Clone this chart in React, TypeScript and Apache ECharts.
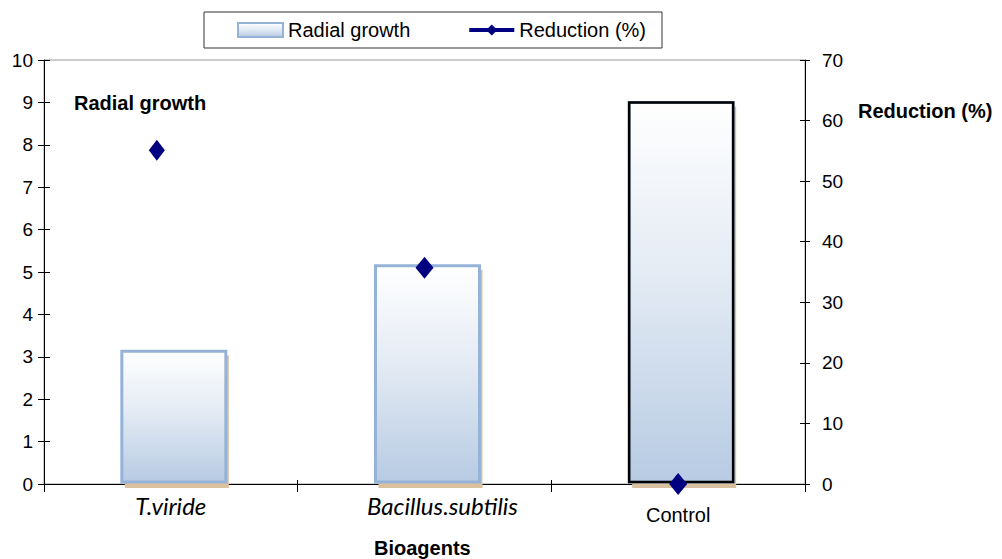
import React, { useEffect, useRef } from "react";
import * as echarts from "echarts";

const categories = ["T.viride", "Bacillus.subtilis", "Control"];
const radialGrowth = [3.13, 5.15, 9.0];
const reduction = [55.1, 35.7, 0];
const italicCategories = ["T.viride", "Bacillus.subtilis"];

const FONT = "'Liberation Sans', Arial, sans-serif";

export default function App() {
  const ref = useRef<HTMLDivElement>(null);
  useEffect(() => {
    document.body.style.margin = "0";
    if (!ref.current) return;
    const chart = echarts.init(ref.current, null, { renderer: "svg" });
    const barGradient = () =>
      new echarts.graphic.LinearGradient(0, 0, 0, 1, [
        { offset: 0, color: "#ffffff" },
        { offset: 0.45, color: "#e4ebf4" },
        { offset: 1, color: "#b7cbe3" },
      ]);
    const option: any = {
      animation: false,
      backgroundColor: "#ffffff",
      textStyle: { fontFamily: FONT },
      grid: {
        left: 44,
        right: 197,
        top: 60,
        bottom: 75,
        show: true,
        borderColor: "#999",
        borderWidth: 1,
        backgroundColor: "transparent",
      },
      legend: {
        left: 204,
        top: 12,
        padding: [8, 16, 8, 33],
        itemWidth: 45,
        itemHeight: 14,
        itemGap: 57,
        borderColor: "#333",
        borderWidth: 1,
        backgroundColor: "#fff",
        textStyle: { fontFamily: FONT, fontSize: 20, color: "#000" },
        data: [
          {
            name: "Radial growth",
            icon: "rect",
            itemStyle: {
              color: barGradient(),
              borderColor: "#95b3d7",
              borderWidth: 2,
            },
          },
          {
            name: "Reduction (%)",
            lineStyle: { opacity: 1, width: 4, color: "#000080" },
            itemStyle: { color: "#000080" },
          },
        ],
      },
      xAxis: [
        {
          type: "category",
          data: categories,
          position: "bottom",
          boundaryGap: true,
          axisLine: { lineStyle: { color: "#000", width: 1 } },
          axisTick: { show: true, inside: false, length: 8, lineStyle: { color: "#000" } },
          axisLabel: {
            margin: 9,
            formatter: (v: string, i: number) =>
              italicCategories.includes(v) ? (i === 1 ? `{b|${v}}` : `{i|${v}}`) : `{n|${v}}`,
            rich: {
              i: { fontFamily: "Lato, sans-serif", fontStyle: "italic", fontSize: 24, color: "#000" },
              b: { fontFamily: "Lato, sans-serif", fontStyle: "italic", fontSize: 24, color: "#000", padding: [0, 0, 0, 36] },
              n: { fontFamily: FONT, fontSize: 20, color: "#000", padding: [12, 0, 0, 0] },
            },
          },
          splitLine: { show: false },
        },
        {
          type: "category",
          data: categories,
          position: "bottom",
          boundaryGap: true,
          axisLine: { show: false },
          axisTick: { show: true, inside: true, length: 4, lineStyle: { color: "#000" } },
          axisLabel: { show: false },
          splitLine: { show: false },
        },
      ],
      yAxis: [
        {
          type: "value",
          position: "left",
          min: 0,
          max: 10,
          interval: 1,
          axisLine: { show: true, lineStyle: { color: "#000" } },
          axisTick: { show: true, length: 6, lineStyle: { color: "#000" } },
          axisLabel: { margin: 11, fontSize: 19, color: "#000", fontFamily: FONT },
          splitLine: { show: false },
        },
        {
          type: "value",
          position: "right",
          min: 0,
          max: 70,
          interval: 10,
          axisLine: { show: true, lineStyle: { color: "#000" } },
          axisTick: { show: true, length: 5, lineStyle: { color: "#000" } },
          axisLabel: { margin: 17, fontSize: 19, color: "#000", fontFamily: FONT },
          splitLine: { show: false },
        },
        {
          type: "value",
          position: "left",
          min: 0,
          max: 10,
          interval: 1,
          axisLine: { show: false },
          axisTick: { show: true, inside: true, length: 6, lineStyle: { color: "#000" } },
          axisLabel: { show: false },
          splitLine: { show: false },
        },
        {
          type: "value",
          position: "right",
          min: 0,
          max: 70,
          interval: 10,
          axisLine: { show: false },
          axisTick: { show: true, inside: true, length: 5, lineStyle: { color: "#000" } },
          axisLabel: { show: false },
          splitLine: { show: false },
        },
      ],
      graphic: [
        {
          type: "text",
          left: 74,
          top: 93,
          style: { text: "Radial growth", font: `bold 20px ${FONT}`, fill: "#000" },
        },
        {
          type: "text",
          left: 858,
          top: 101,
          style: { text: "Reduction (%)", font: `bold 20px ${FONT}`, fill: "#000" },
        },
        {
          type: "text",
          left: 374,
          top: 538,
          style: { text: "Bioagents", font: `bold 20px ${FONT}`, fill: "#000" },
        },
      ],
      series: [
        {
          name: "Radial growth",
          type: "custom",
          xAxisIndex: 0,
          yAxisIndex: 0,
          z: 2,
          data: categories.map((_, i) => [i, radialGrowth[i]]),
          encode: { x: 0, y: 1 },
          itemStyle: { color: "#b7cbe3" },
          renderItem: (params: any, api: any) => {
            const idx = api.value(0);
            const v = api.value(1);
            const top = api.coord([idx, v]);
            const base = api.coord([idx, 0]);
            const w = api.size([1, 0])[0] * 0.41;
            const x = top[0] - w / 2 + 3;
            const h = base[1] - top[1] - 2;
            const children: any[] = [
              {
                type: "rect",
                shape: { x: x + 3, y: top[1] + 4, width: w, height: h + 2 },
                style: { fill: "#dcc19f" },
              },
              {
                type: "rect",
                shape: { x, y: top[1], width: w, height: h },
                style: { fill: barGradient(), stroke: "#95b3d7", lineWidth: 3 },
              },
            ];
            if (params.dataIndex === categories.length - 1) {
              children.push({
                type: "rect",
                shape: { x, y: top[1], width: w, height: h },
                style: { fill: "none", stroke: "#000", lineWidth: 2.5 },
              });
            }
            return { type: "group", children };
          },
        },
        {
          name: "Reduction (%)",
          type: "line",
          xAxisIndex: 0,
          yAxisIndex: 1,
          z: 5,
          symbol: "diamond",
          symbolSize: [18, 22],
          data: reduction.map((v, i) =>
            i === 0 ? { value: v, symbolOffset: [-14, 0], symbolSize: [16, 21] } : v
          ),
          lineStyle: { opacity: 0 },
          itemStyle: { color: "#000080" },
        },
      ],
    };
    chart.setOption(option);
    return () => chart.dispose();
  }, []);
  return <div ref={ref} style={{ width: 1002, height: 559 }} />;
}
